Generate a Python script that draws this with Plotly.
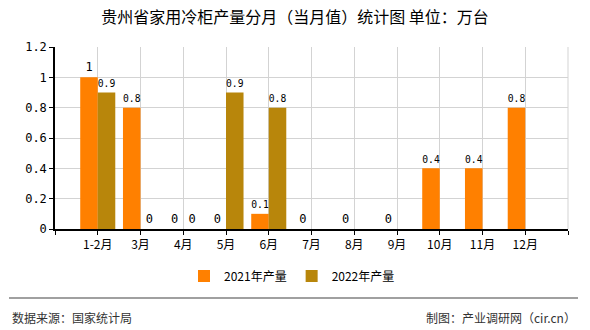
import plotly.graph_objects as go

categories = ["1-2月", "3月", "4月", "5月", "6月", "7月", "8月", "9月", "10月", "11月", "12月"]
values_2021 = [1, 0.8, 0, 0, 0.1, 0, 0, 0, 0.4, 0.4, 0.8]
values_2022 = [0.9, 0, 0, 0.9, 0.8, None, None, None, None, None, None]
series_names = ["2021年产量", "2022年产量"]
colors = ["#FF8000", "#B8860B"]

x_idx = list(range(len(categories)))

def labels(vals):
    return ["" if v is None else f"{v:g}" for v in vals]

fig = go.Figure()
for name, vals, col in zip(series_names, [values_2021, values_2022], colors):
    fig.add_trace(go.Bar(
        x=x_idx, y=vals, name=name, marker=dict(color=col, line=dict(width=0)),
        text=labels(vals), textposition="outside", cliponaxis=False,
        textfont=dict(family="DejaVu Sans Mono", size=12, color="#000000"),
    ))

W, H = 590, 330
L, R, T, B = 55, 568, 47, 229
def px_x(px):
    return (px - L) / (R - L)
def px_y(py):
    return (B - py) / (B - T)

fig.update_layout(
    width=W, height=H,
    margin=dict(l=L, r=W - R, t=T, b=H - B),
    paper_bgcolor="white", plot_bgcolor="white",
    barmode="group", bargap=0.18, bargroupgap=0,
    title=dict(text="贵州省家用冷柜产量分月（当月值）统计图 单位：万台",
               x=0.5, xanchor="center", y=1 - 17 / H, yanchor="middle",
               font=dict(family="Noto Sans CJK SC", size=16, color="#000000")),
    legend=dict(orientation="h", x=px_x(292), xanchor="center", y=px_y(276), yanchor="middle",
                font=dict(family="Noto Sans CJK SC", size=12, color="#000000"),
                itemwidth=30, traceorder="normal"),
    showlegend=True,
    font=dict(family="Noto Sans CJK SC", size=12, color="#000000"),
)

fig.update_xaxes(
    range=[-1, len(categories)], tickmode="array",
    tickvals=list(range(-1, len(categories) + 1)),
    ticktext=[""] + categories + [""],
    showgrid=True, gridcolor="#d3d3d3", gridwidth=1,
    showline=True, linecolor="#000000", linewidth=1.5,
    ticks="outside", ticklen=4, tickcolor="#000000",
    tickfont=dict(family="Noto Sans CJK SC", size=12, color="#000000"),
    zeroline=False,
)
fig.update_yaxes(
    range=[0, 1.2], dtick=0.2, tick0=0,
    showgrid=True, gridcolor="#d3d3d3", gridwidth=1,
    showline=True, linecolor="#000000", linewidth=1.5,
    ticks="outside", ticklen=4, tickcolor="#000000",
    tickfont=dict(family="DejaVu Sans Mono", size=12, color="#000000"),
    zeroline=False,
)

# right frame in grid colour
fig.add_shape(type="line", xref="paper", yref="paper", x0=1, x1=1, y0=0, y1=1,
              line=dict(color="#d3d3d3", width=1))

fig.add_shape(type="line", xref="paper", yref="paper",
              x0=px_x(9), x1=px_x(578), y0=px_y(298), y1=px_y(298),
              line=dict(color="#808080", width=1.5))

fig.add_annotation(text="数据来源：国家统计局", xref="paper", yref="paper",
                   x=px_x(10), y=px_y(317), xanchor="left", yanchor="middle",
                   showarrow=False, font=dict(family="Noto Sans CJK SC", size=12, color="#333333"))
fig.add_annotation(text="制图：产业调研网（cir.cn）", xref="paper", yref="paper",
                   x=px_x(578), y=px_y(317), xanchor="right", yanchor="middle",
                   showarrow=False, font=dict(family="Noto Sans CJK SC", size=12, color="#333333"))

fig.write_html("out.html")
